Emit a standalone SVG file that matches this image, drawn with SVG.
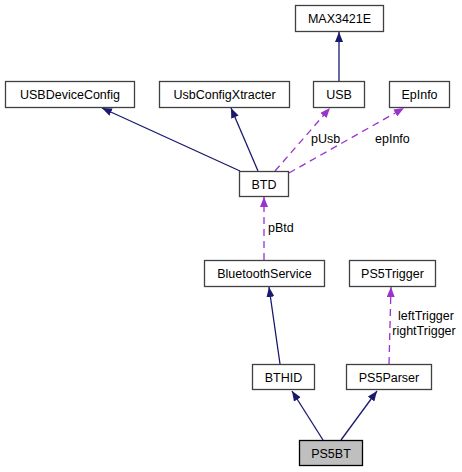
<svg xmlns="http://www.w3.org/2000/svg" width="462" height="472" viewBox="0 0 462 472">
<defs>
<style>
.n rect{fill:#ffffff;stroke:#404040;stroke-width:1.3}
.n text,.l{font-family:"Liberation Sans",Arial,sans-serif;font-size:12.5px;fill:#000}
.n text{text-anchor:middle}
.inh{stroke:#191970;stroke-width:1.3;fill:none}
.use{stroke:#9a32cd;stroke-width:1.3;fill:none;stroke-dasharray:7,5}
</style>
<marker id="ai" viewBox="0 0 10 8" refX="10" refY="4" markerWidth="10" markerHeight="8" markerUnits="userSpaceOnUse" orient="auto"><path d="M0,0L10,4L0,8Z" fill="#191970"/></marker>
<marker id="au" viewBox="0 0 10 8" refX="10" refY="4" markerWidth="10" markerHeight="8" markerUnits="userSpaceOnUse" orient="auto"><path d="M0,0L10,4L0,8Z" fill="#9a32cd"/></marker>
</defs>
<rect width="462" height="472" fill="#ffffff"/>
<g id="edges">
<path class="inh" d="M339,81L339,32" marker-end="url(#ai)"/>
<path class="inh" d="M240,171L102,108" marker-end="url(#ai)"/>
<path class="inh" d="M258,171L231,108" marker-end="url(#ai)"/>
<path class="use" d="M275,171L330,108" marker-end="url(#au)"/>
<path class="use" d="M289,173L404,108" marker-end="url(#au)"/>
<path class="use" d="M264,260L264,197" marker-end="url(#au)"/>
<path class="inh" d="M280,364L269,287" marker-end="url(#ai)"/>
<path class="use" d="M389,364L391,287" marker-end="url(#au)"/>
<path class="inh" d="M323,440L292,391" marker-end="url(#ai)"/>
<path class="inh" d="M341,440L377,391" marker-end="url(#ai)"/>
<text class="l" x="311" y="143">pUsb</text>
<text class="l" x="375" y="143">epInfo</text>
<text class="l" x="268" y="232">pBtd</text>
<text class="l" x="426" y="320" text-anchor="middle">leftTrigger</text>
<text class="l" x="424" y="335" text-anchor="middle">rightTrigger</text>
</g>
<g id="MAX3421E" class="n"><rect x="295.5" y="5.5" width="88" height="26"/><text x="339.5" y="23">MAX3421E</text></g>
<g id="USBDeviceConfig" class="n"><rect x="5.5" y="81.5" width="129" height="26"/><text x="70" y="99">USBDeviceConfig</text></g>
<g id="UsbConfigXtracter" class="n"><rect x="159.5" y="81.5" width="130" height="26"/><text x="224.5" y="99">UsbConfigXtracter</text></g>
<g id="USB" class="n"><rect x="313.5" y="81.5" width="51" height="26"/><text x="339" y="99">USB</text></g>
<g id="EpInfo" class="n"><rect x="389.5" y="81.5" width="60" height="26"/><text x="419.5" y="99">EpInfo</text></g>
<g id="BTD" class="n"><rect x="239.5" y="171.5" width="49" height="25"/><text x="264" y="189">BTD</text></g>
<g id="BluetoothService" class="n"><rect x="204.5" y="260.5" width="120" height="26"/><text x="264.5" y="278">BluetoothService</text></g>
<g id="PS5Trigger" class="n"><rect x="349.5" y="260.5" width="86" height="26"/><text x="392.5" y="278">PS5Trigger</text></g>
<g id="BTHID" class="n"><rect x="252.5" y="364.5" width="62" height="25"/><text x="283.5" y="382">BTHID</text></g>
<g id="PS5Parser" class="n"><rect x="346.5" y="364.5" width="85" height="25"/><text x="389" y="382">PS5Parser</text></g>
<g id="PS5BT" class="n"><rect x="299.5" y="440.5" width="63" height="25" style="fill:#bfbfbf;stroke:#000"/><text x="331" y="458">PS5BT</text></g>
</svg>
